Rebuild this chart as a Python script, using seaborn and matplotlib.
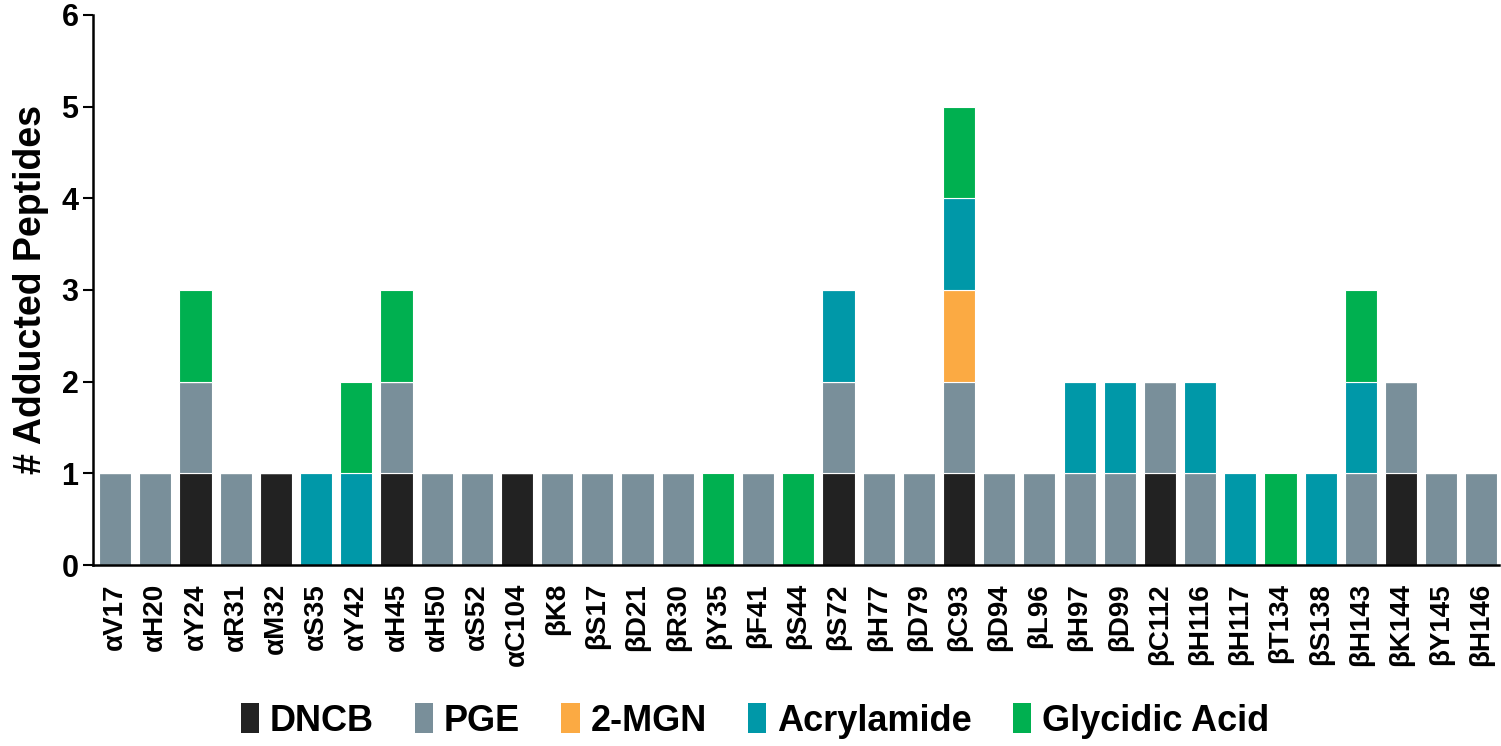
import numpy as np
import pandas as pd
import matplotlib
matplotlib.use("Agg")
import matplotlib.pyplot as plt
from matplotlib.patches import Patch
import seaborn as sns

sites = ["αV17", "αH20", "αY24", "αR31", "αM32", "αS35", "αY42", "αH45", "αH50",
         "αS52", "αC104", "βK8", "βS17", "βD21", "βR30", "βY35", "βF41", "βS44",
         "βS72", "βH77", "βD79", "βC93", "βD94", "βL96", "βH97", "βD99", "βC112",
         "βH116", "βH117", "βT134", "βS138", "βH143", "βK144", "βY145", "βH146"]

dncb = [0, 0, 1, 0, 1, 0, 0, 1, 0, 0, 1, 0, 0, 0, 0, 0, 0, 0,
        1, 0, 0, 1, 0, 0, 0, 0, 1, 0, 0, 0, 0, 0, 1, 0, 0]
pge = [1, 1, 1, 1, 0, 0, 0, 1, 1, 1, 0, 1, 1, 1, 1, 0, 1, 0,
       1, 1, 1, 1, 1, 1, 1, 1, 1, 1, 0, 0, 0, 1, 1, 1, 1]
mgn = [0, 0, 0, 0, 0, 0, 0, 0, 0, 0, 0, 0, 0, 0, 0, 0, 0, 0,
       0, 0, 0, 1, 0, 0, 0, 0, 0, 0, 0, 0, 0, 0, 0, 0, 0]
acryl = [0, 0, 0, 0, 0, 1, 1, 0, 0, 0, 0, 0, 0, 0, 0, 0, 0, 0,
         1, 0, 0, 1, 0, 0, 1, 1, 0, 1, 1, 0, 1, 1, 0, 0, 0]
glyc = [0, 0, 1, 0, 0, 0, 1, 1, 0, 0, 0, 0, 0, 0, 0, 1, 0, 1,
        0, 0, 0, 1, 0, 0, 0, 0, 0, 0, 0, 1, 0, 1, 0, 0, 0]

series = ["DNCB", "PGE", "2-MGN", "Acrylamide", "Glycidic Acid"]
colors = ["#222222", "#798f9a", "#fbaa43", "#0098a8", "#00b050"]

sns.set_style("white")
plt.rcParams["font.family"] = ["Liberation Sans", "DejaVu Sans"]
plt.rcParams["font.weight"] = "bold"
plt.rcParams["text.color"] = "black"
plt.rcParams["axes.labelcolor"] = "black"
plt.rcParams["xtick.color"] = "black"
plt.rcParams["ytick.color"] = "black"

fig = plt.figure(figsize=(15.01, 7.46), dpi=100)
ax = fig.add_axes([0.062, 0.2426, 0.937, 0.7374])

bottom = np.zeros(len(sites))
for name, vals, col in zip(series, [dncb, pge, mgn, acryl, glyc], colors):
    sns.barplot(x=sites, y=vals, bottom=bottom, color=col, saturation=1, width=0.8,
                edgecolor="white", linewidth=0.8, ax=ax)
    bottom = bottom + np.array(vals)

ax.set_ylim(0, 6)
ax.set_xlim(-0.55, 34.45)
ax.set_yticks(range(7))
ax.set_ylabel("# Adducted Peptides", fontsize=27, fontweight="bold", labelpad=9)
ax.tick_params(axis="y", direction="out", length=7, width=1.5, labelsize=22, left=True)
ax.tick_params(axis="x", length=0, labelsize=20, rotation=90, pad=13)
for lab in ax.get_xticklabels() + ax.get_yticklabels():
    lab.set_fontweight("bold")
sns.despine(ax=ax)
for sp in ["left", "bottom"]:
    ax.spines[sp].set_linewidth(1.8)
    ax.spines[sp].set_color("black")

handles = [Patch(facecolor=c, edgecolor="none") for c in colors]
fig.legend(handles, series, loc="lower center", bbox_to_anchor=(0.503, 0.0),
           ncol=5, frameon=False, prop={"size": 26, "weight": "bold"},
           handlelength=0.5, handleheight=0.9, handletextpad=0.3, columnspacing=1.15,
           borderaxespad=0.1, borderpad=0.1)

fig.savefig("out.png", dpi=100)
